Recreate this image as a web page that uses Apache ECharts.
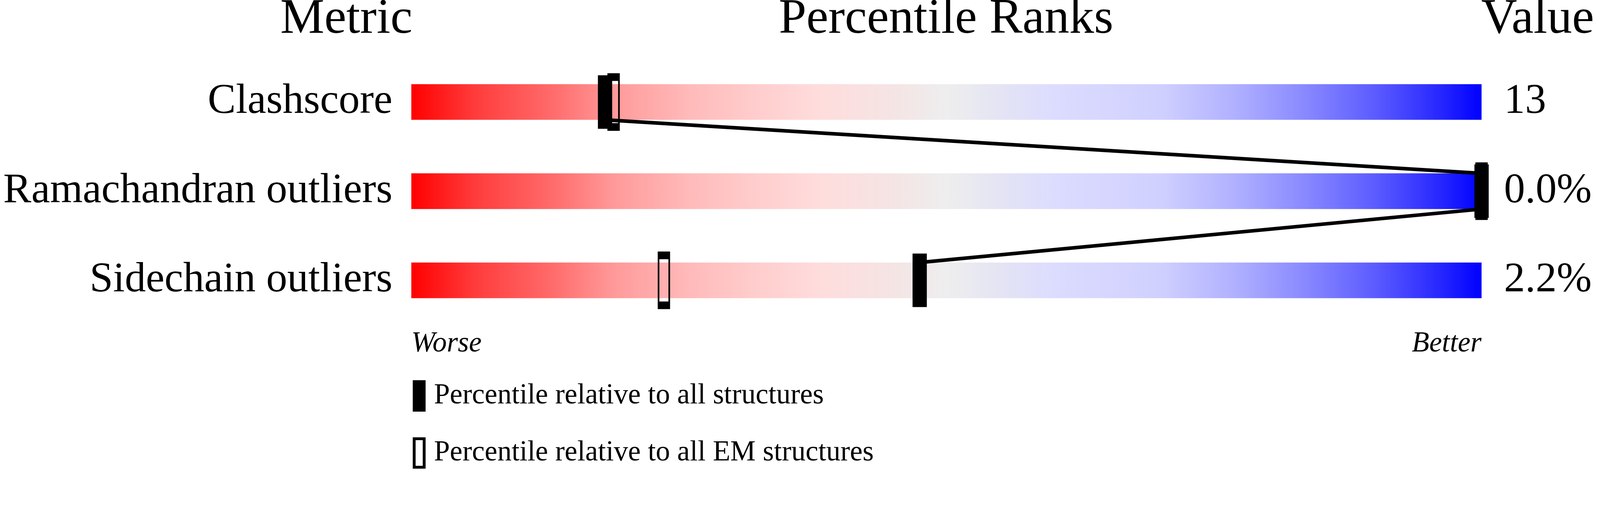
<!DOCTYPE html>
<html>
<head>
<meta charset="utf-8">
<script src="https://cdn.jsdelivr.net/npm/echarts@6.0.0/dist/echarts.min.js"></script>
<style>
html,body{margin:0;padding:0;background:#fff;overflow:hidden;}
#chart{width:100vw;height:100vh;}
</style>
</head>
<body>
<div id="chart"></div>
<script>
// ---- data ----
const metrics = ['Clashscore', 'Ramachandran outliers', 'Sidechain outliers'];
const valueLabels = ['13', '0.0%', '2.2%'];
const pctAll = [18.1, 100, 47.5];      // percentile relative to all structures
const pctEM = [18.9, 100, 23.6];       // percentile relative to all EM structures
const scaleEnds = ['Worse', 'Better'];
const headers = ['Metric', 'Percentile Ranks', 'Value'];
const legendNames = ['Percentile relative to all structures', 'Percentile relative to all EM structures'];

const FONT = 'Liberation Serif';
const el = document.getElementById('chart');
const chart = echarts.init(el, null, {renderer: 'canvas'});
const W = el.clientWidth, H = el.clientHeight;
const k = Math.min(W / 4485, H / 1311);
const s = v => v * k;

const linePts = [];
pctAll.forEach((p, i) => {
  linePts.push([p, i + 0.3]);
  linePts.push([p, i + 0.7]);
});

const grad = new echarts.graphic.LinearGradient(0, 0, 1, 0, [
  {offset: 0.00, color: '#ff0000'},
  {offset: 0.06, color: '#ff3c3c'},
  {offset: 0.13, color: '#ff6a6a'},
  {offset: 0.19, color: '#ff9a9a'},
  {offset: 0.26, color: '#ffbaba'},
  {offset: 0.32, color: '#ffcccc'},
  {offset: 0.38, color: '#ffdcdc'},
  {offset: 0.45, color: '#f5e4e4'},
  {offset: 0.50, color: '#eeeeee'},
  {offset: 0.55, color: '#e4e4f4'},
  {offset: 0.60, color: '#dcdcff'},
  {offset: 0.70, color: '#d0d0ff'},
  {offset: 0.77, color: '#b0b0ff'},
  {offset: 0.83, color: '#8c8cff'},
  {offset: 0.90, color: '#5c5cff'},
  {offset: 0.96, color: '#2828ff'},
  {offset: 1.00, color: '#0000ff'}
]);

const titleStyle = {fontSize: s(139), fontFamily: FONT, fontWeight: 'normal', color: '#000'};
const legendText = {fontSize: s(80), fontFamily: FONT, color: '#000', padding: [s(62), 0, 0, s(22)]};

const option = {
  backgroundColor: '#fff',
  animation: false,
  title: [
    {text: headers[0], right: W - s(1153) - s(3), top: s(-14), padding: 0, textStyle: titleStyle},
    {text: headers[1], left: s(2183), top: s(-14), padding: 0, textStyle: titleStyle},
    {text: headers[2], left: s(4152), top: s(-14), padding: 0, textStyle: titleStyle}
  ],
  legend: [
    {
      data: [legendNames[0]], orient: 'vertical', left: s(1157), top: s(1066), padding: 0,
      itemWidth: s(28), itemHeight: s(80), selectedMode: false,
      itemStyle: {borderWidth: s(8), borderColor: '#000'},
      textStyle: legendText
    },
    {
      data: [legendNames[1]], orient: 'vertical', left: s(1157), top: s(1226), padding: 0,
      itemWidth: s(28), itemHeight: s(80), selectedMode: false,
      itemStyle: {borderWidth: s(8), borderColor: '#000'},
      textStyle: legendText
    }
  ],
  grid: {left: s(1153), width: s(3000), top: s(161), height: s(750), containLabel: false},
  xAxis: {
    type: 'value', min: 0, max: 100, interval: 100,
    axisLine: {show: false}, axisTick: {show: false}, splitLine: {show: false},
    axisLabel: {
      formatter: v => (v === 0 ? scaleEnds[0] : scaleEnds[1]),
      fontSize: s(80), fontFamily: FONT, fontStyle: 'italic', color: '#000', margin: s(14),
      alignMinLabel: 'left', alignMaxLabel: 'right'
    }
  },
  yAxis: [
    {
      type: 'category', data: metrics, inverse: true,
      axisLine: {show: false}, axisTick: {show: false}, splitLine: {show: false},
      axisLabel: {fontSize: s(118), fontFamily: FONT, color: '#000', margin: s(53), padding: [s(62), 0, 0, 0]}
    },
    {
      type: 'category', data: metrics, inverse: true, position: 'right',
      axisLine: {show: false}, axisTick: {show: false}, splitLine: {show: false},
      axisLabel: {
        formatter: (v, idx) => valueLabels[idx],
        fontSize: s(118), fontFamily: FONT, color: '#000', margin: s(63), padding: [s(62), 0, 0, 0]
      }
    },
    {type: 'value', min: 0, max: 3, inverse: true, show: false}
  ],
  series: [
    {
      type: 'bar', name: 'scale', yAxisIndex: 0, barWidth: s(100), z: 1,
      data: metrics.map(() => 100),
      itemStyle: {color: grad},
      silent: true
    },
    {
      type: 'line', name: 'link', yAxisIndex: 2, z: 3,
      data: linePts, symbol: 'none',
      lineStyle: {color: '#000', width: s(10)}, silent: true
    },
    {
      type: 'scatter', name: legendNames[1], yAxisIndex: 0, z: 4,
      symbol: 'rect', symbolSize: [s(30), s(140)],
      data: pctEM.map((p, i) => [p, i]),
      itemStyle: {color: 'transparent', borderColor: '#000', borderWidth: s(10), opacity: 1},
      clip: false
    },
    {
      type: 'scatter', name: legendNames[0], yAxisIndex: 0, z: 5,
      symbol: 'rect', symbolSize: [s(40), s(150)],
      data: pctAll.map((p, i) => [p, i]),
      itemStyle: {color: '#000', opacity: 1},
      clip: false
    }
  ]
};
chart.setOption(option);
</script>
</body>
</html>
